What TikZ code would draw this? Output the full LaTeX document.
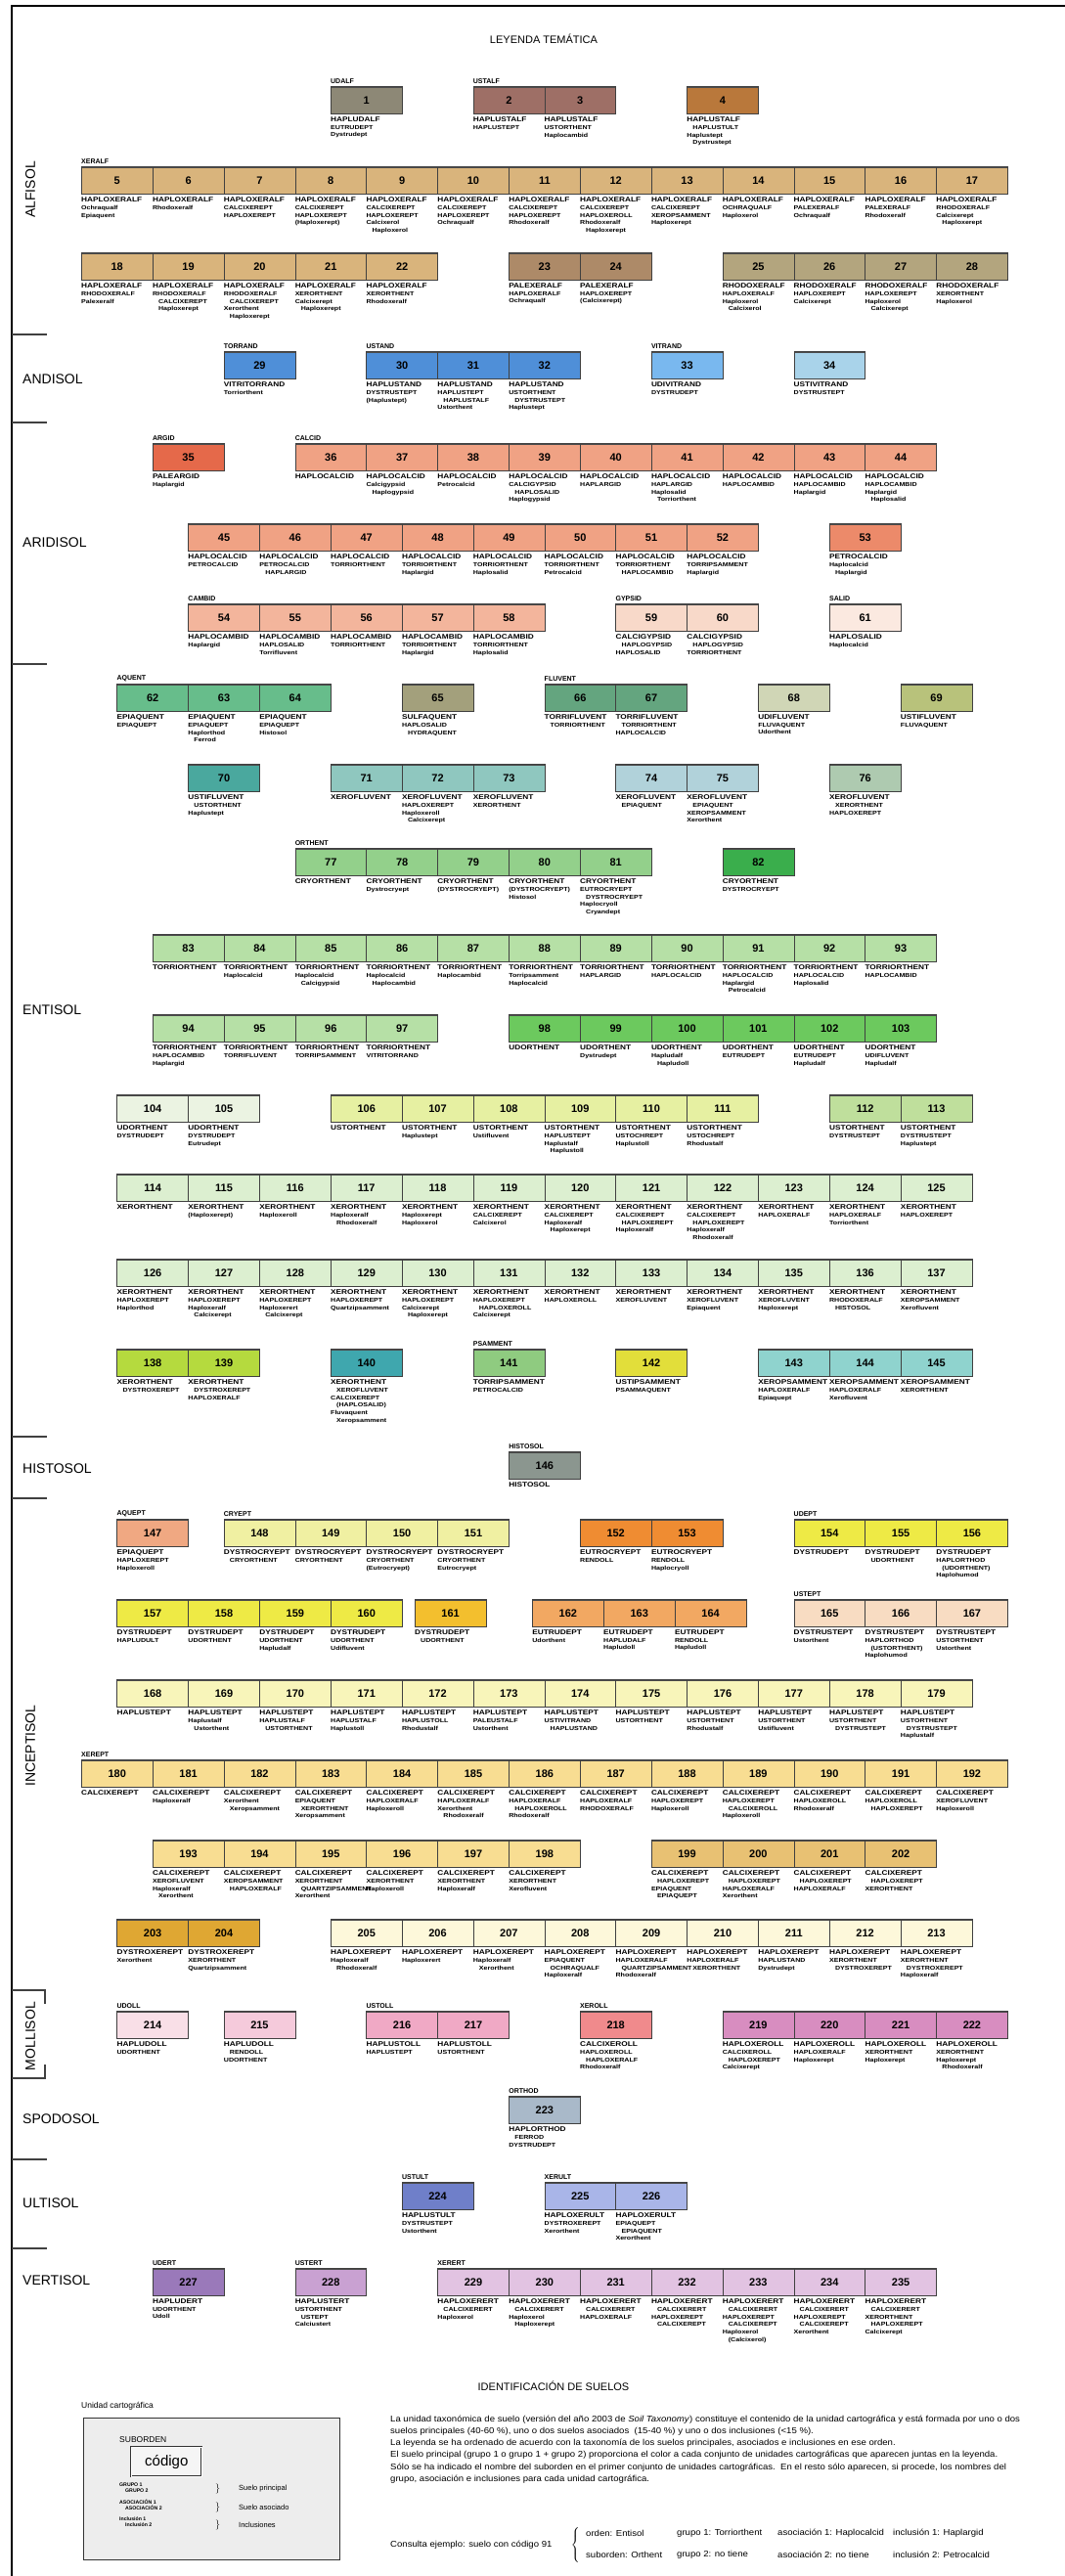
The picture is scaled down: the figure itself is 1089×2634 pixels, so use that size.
\documentclass[tikz,border=0pt]{standalone}
\usepackage{fontspec}
\setmainfont{Liberation Sans}
\newfontfamily\anchafont[FakeStretch=1.2]{Liberation Sans}
\newfontfamily\notafont[FakeStretch=1.1]{Liberation Sans}
\usetikzlibrary{positioning}

% colores de los suelos
\definecolor{cA}{HTML}{8D8876}
\definecolor{cB}{HTML}{9E6F66}
\definecolor{cC}{HTML}{B9783B}
\definecolor{cD}{HTML}{D9B47C}
\definecolor{cE}{HTML}{AD8A68}
\definecolor{cF}{HTML}{B3A57E}
\definecolor{cG}{HTML}{4F8FD8}
\definecolor{cH}{HTML}{79B8EF}
\definecolor{cI}{HTML}{A9D3EA}
\definecolor{cJ}{HTML}{E5694A}
\definecolor{cK}{HTML}{F0A284}
\definecolor{cL}{HTML}{EC8A6A}
\definecolor{cM}{HTML}{F3B59C}
\definecolor{cN}{HTML}{F8D9C9}
\definecolor{cO}{HTML}{FBE9E0}
\definecolor{cP}{HTML}{67BD8B}
\definecolor{cQ}{HTML}{A3A07C}
\definecolor{cR}{HTML}{64A57F}
\definecolor{cS}{HTML}{D0D6B6}
\definecolor{cT}{HTML}{B8C27B}
\definecolor{cU}{HTML}{4AA89E}
\definecolor{cV}{HTML}{8FC7BF}
\definecolor{cW}{HTML}{B1D2DA}
\definecolor{cX}{HTML}{AECAB0}
\definecolor{cY}{HTML}{93D08B}
\definecolor{cZ}{HTML}{3AAE4C}
\definecolor{eA}{HTML}{B6E0A6}
\definecolor{eB}{HTML}{6CC95E}
\definecolor{eC}{HTML}{EBF3E2}
\definecolor{eD}{HTML}{E6F0A2}
\definecolor{eE}{HTML}{BFDF9C}
\definecolor{eF}{HTML}{DCEFD0}
\definecolor{eG}{HTML}{B5DA3E}
\definecolor{eH}{HTML}{3FA7AE}
\definecolor{eI}{HTML}{8FCB80}
\definecolor{eJ}{HTML}{E2DE3A}
\definecolor{eK}{HTML}{8FD3CE}
\definecolor{hA}{HTML}{8B968F}
\definecolor{iA}{HTML}{F0A882}
\definecolor{iB}{HTML}{F0F0A2}
\definecolor{iC}{HTML}{EF8C32}
\definecolor{iD}{HTML}{EEEA45}
\definecolor{iE}{HTML}{F3BF2E}
\definecolor{iF}{HTML}{F2A862}
\definecolor{iG}{HTML}{F8DCC2}
\definecolor{iH}{HTML}{F8F5BA}
\definecolor{iI}{HTML}{F8DD92}
\definecolor{iJ}{HTML}{E8C173}
\definecolor{iK}{HTML}{DFA733}
\definecolor{iL}{HTML}{FDF8DA}
\definecolor{mA}{HTML}{F9DFE7}
\definecolor{mB}{HTML}{F5CADB}
\definecolor{mC}{HTML}{F0A9C5}
\definecolor{mD}{HTML}{F08A8C}
\definecolor{mE}{HTML}{D88DC0}
\definecolor{sA}{HTML}{A9B9C9}
\definecolor{uA}{HTML}{6F7FC9}
\definecolor{uB}{HTML}{A9B5E8}
\definecolor{vA}{HTML}{9A79BA}
\definecolor{vB}{HTML}{C9A1D2}
\definecolor{vC}{HTML}{E2C3E2}

\newcommand{\indt}{\hspace*{6pt}}
% unidad: numero, columna, y, color, grupo 1, resto
\newcommand{\uc}[6]{%
  \node[caja, fill=#4] (u#1) at ({83+72.85*(#2)}, #3) {#1};
  \node[texto] (t#1) at ([yshift=-3pt]u#1.south west) {{\fontsize{6.9}{7.7}\selectfont #5}#6};}

\begin{document}
\begin{tikzpicture}[x=1pt, y=-1pt,
    caja/.style = {draw=black!75, line width=0.6pt, anchor=north west,
      minimum width=72.85pt, minimum height=28pt, inner sep=0pt,
      font=\bfseries\fontsize{11}{11}\selectfont,
      path picture={\draw[black!70, line width=2.6pt]
        (path picture bounding box.north west) -- (path picture bounding box.north east);}},
    texto/.style = {anchor=north west, inner sep=0pt, align=left,
      font=\anchafont\bfseries\fontsize{5.9}{7.7}\selectfont},
    subord/.style = {anchor=south west, inner sep=0pt, font=\bfseries\fontsize{7}{7}\selectfont},
    orden/.style = {anchor=west, inner sep=0pt, font=\fontsize{14}{14}\selectfont},
    nota/.style = {anchor=west, inner sep=0pt, font=\notafont\fontsize{8.7}{9}\selectfont},
    divisor/.style = {line width=1.2pt, black!75}]
\useasboundingbox (0,0) rectangle (1089,2634);
\fill[white] (0,0) rectangle (1089,2634);

% marco
\draw[line width=1.2pt] (12,2634) -- (12,6) -- (1089,6);

\node[font=\fontsize{11}{11}\selectfont] (titulo) at (556,40) {LEYENDA TEMÁTICA};

% ordenes
\node[orden, rotate=90, anchor=center] (oALF) at (31,194) {ALFISOL};
\node[orden] (oAND) at (23,388) {ANDISOL};
\node[orden] (oARI) at (23,555) {ARIDISOL};
\node[orden] (oENT) at (23,1033) {ENTISOL};
\node[orden] (oHIS) at (23,1502) {HISTOSOL};
\node[orden, rotate=90, anchor=center] (oINC) at (31,1785) {INCEPTISOL};
\node[orden, rotate=90, anchor=center] (oMOL) at (31,2082) {MOLLISOL};
\node[orden] (oSPO) at (23,2167) {SPODOSOL};
\node[orden] (oULT) at (23,2253) {ULTISOL};
\node[orden] (oVER) at (23,2332) {VERTISOL};

\foreach \y in {342,432,679,1469,1532,2208,2299}
  \draw[divisor] (12,\y) -- (48,\y);
\draw[divisor] (46,2049) -- (46,2035) -- (12,2035);
\draw[divisor] (46,2111) -- (46,2125) -- (12,2125);

% ALFISOL
\uc{1}{3.5}{88}{cA}{HAPLUDALF}{\\EUTRUDEPT\\Dystrudept}
\uc{2}{5.5}{88}{cB}{HAPLUSTALF}{\\HAPLUSTEPT}
\uc{3}{6.5}{88}{cB}{HAPLUSTALF}{\\USTORTHENT\\Haplocambid}
\uc{4}{8.5}{88}{cC}{HAPLUSTALF}{\\\indt HAPLUSTULT\\Haplustept\\\indt Dystrustept}
\uc{5}{0}{170}{cD}{HAPLOXERALF}{\\Ochraqualf\\Epiaquent}
\uc{6}{1}{170}{cD}{HAPLOXERALF}{\\Rhodoxeralf}
\uc{7}{2}{170}{cD}{HAPLOXERALF}{\\CALCIXEREPT\\HAPLOXEREPT}
\uc{8}{3}{170}{cD}{HAPLOXERALF}{\\CALCIXEREPT\\HAPLOXEREPT\\(Haploxerept)}
\uc{9}{4}{170}{cD}{HAPLOXERALF}{\\CALCIXEREPT\\HAPLOXEREPT\\Calcixerol\\\indt Haploxerol}
\uc{10}{5}{170}{cD}{HAPLOXERALF}{\\CALCIXEREPT\\HAPLOXEREPT\\Ochraqualf}
\uc{11}{6}{170}{cD}{HAPLOXERALF}{\\CALCIXEREPT\\HAPLOXEREPT\\Rhodoxeralf}
\uc{12}{7}{170}{cD}{HAPLOXERALF}{\\CALCIXEREPT\\HAPLOXEROLL\\Rhodoxeralf\\\indt Haploxerept}
\uc{13}{8}{170}{cD}{HAPLOXERALF}{\\CALCIXEREPT\\XEROPSAMMENT\\Haploxerept}
\uc{14}{9}{170}{cD}{HAPLOXERALF}{\\OCHRAQUALF\\Haploxerol}
\uc{15}{10}{170}{cD}{HAPLOXERALF}{\\PALEXERALF\\Ochraqualf}
\uc{16}{11}{170}{cD}{HAPLOXERALF}{\\PALEXERALF\\Rhodoxeralf}
\uc{17}{12}{170}{cD}{HAPLOXERALF}{\\RHODOXERALF\\Calcixerept\\\indt Haploxerept}
\uc{18}{0}{258}{cD}{HAPLOXERALF}{\\RHODOXERALF\\Palexeralf}
\uc{19}{1}{258}{cD}{HAPLOXERALF}{\\RHODOXERALF\\\indt CALCIXEREPT\\\indt Haploxerept}
\uc{20}{2}{258}{cD}{HAPLOXERALF}{\\RHODOXERALF\\\indt CALCIXEREPT\\Xerorthent\\\indt Haploxerept}
\uc{21}{3}{258}{cD}{HAPLOXERALF}{\\XERORTHENT\\Calcixerept\\\indt Haploxerept}
\uc{22}{4}{258}{cD}{HAPLOXERALF}{\\XERORTHENT\\Rhodoxeralf}
\uc{23}{6}{258}{cE}{PALEXERALF}{\\HAPLOXERALF\\Ochraqualf}
\uc{24}{7}{258}{cE}{PALEXERALF}{\\HAPLOXEREPT\\(Calcixerept)}
\uc{25}{9}{258}{cF}{RHODOXERALF}{\\HAPLOXERALF\\Haploxerol\\\indt Calcixerol}
\uc{26}{10}{258}{cF}{RHODOXERALF}{\\HAPLOXEREPT\\Calcixerept}
\uc{27}{11}{258}{cF}{RHODOXERALF}{\\HAPLOXEREPT\\Haploxerol\\\indt Calcixerept}
\uc{28}{12}{258}{cF}{RHODOXERALF}{\\XERORTHENT\\Haploxerol}
\node[subord] (sUDALF) at ([yshift=2pt]u1.north west) {UDALF};
\node[subord] (sUSTALF) at ([yshift=2pt]u2.north west) {USTALF};
\node[subord] (sXERALF) at ([yshift=2pt]u5.north west) {XERALF};

% ANDISOL
\uc{29}{2}{359}{cG}{VITRITORRAND}{\\Torriorthent}
\uc{30}{4}{359}{cG}{HAPLUSTAND}{\\DYSTRUSTEPT\\(Haplustept)}
\uc{31}{5}{359}{cG}{HAPLUSTAND}{\\HAPLUSTEPT\\\indt HAPLUSTALF\\Ustorthent}
\uc{32}{6}{359}{cG}{HAPLUSTAND}{\\USTORTHENT\\\indt DYSTRUSTEPT\\Haplustept}
\uc{33}{8}{359}{cH}{UDIVITRAND}{\\DYSTRUDEPT}
\uc{34}{10}{359}{cI}{USTIVITRAND}{\\DYSTRUSTEPT}
\node[subord] (sTORRAND) at ([yshift=2pt]u29.north west) {TORRAND};
\node[subord] (sUSTAND) at ([yshift=2pt]u30.north west) {USTAND};
\node[subord] (sVITRAND) at ([yshift=2pt]u33.north west) {VITRAND};

% ARIDISOL
\uc{35}{1}{453}{cJ}{PALEARGID}{\\Haplargid}
\uc{36}{3}{453}{cK}{HAPLOCALCID}{}
\uc{37}{4}{453}{cK}{HAPLOCALCID}{\\Calcigypsid\\\indt Haplogypsid}
\uc{38}{5}{453}{cK}{HAPLOCALCID}{\\Petrocalcid}
\uc{39}{6}{453}{cK}{HAPLOCALCID}{\\CALCIGYPSID\\\indt HAPLOSALID\\Haplogypsid}
\uc{40}{7}{453}{cK}{HAPLOCALCID}{\\HAPLARGID}
\uc{41}{8}{453}{cK}{HAPLOCALCID}{\\HAPLARGID\\Haplosalid\\\indt Torriorthent}
\uc{42}{9}{453}{cK}{HAPLOCALCID}{\\HAPLOCAMBID}
\uc{43}{10}{453}{cK}{HAPLOCALCID}{\\HAPLOCAMBID\\Haplargid}
\uc{44}{11}{453}{cK}{HAPLOCALCID}{\\HAPLOCAMBID\\Haplargid\\\indt Haplosalid}
\uc{45}{1.5}{535}{cK}{HAPLOCALCID}{\\PETROCALCID}
\uc{46}{2.5}{535}{cK}{HAPLOCALCID}{\\PETROCALCID\\\indt HAPLARGID}
\uc{47}{3.5}{535}{cK}{HAPLOCALCID}{\\TORRIORTHENT}
\uc{48}{4.5}{535}{cK}{HAPLOCALCID}{\\TORRIORTHENT\\Haplargid}
\uc{49}{5.5}{535}{cK}{HAPLOCALCID}{\\TORRIORTHENT\\Haplosalid}
\uc{50}{6.5}{535}{cK}{HAPLOCALCID}{\\TORRIORTHENT\\Petrocalcid}
\uc{51}{7.5}{535}{cK}{HAPLOCALCID}{\\TORRIORTHENT\\\indt HAPLOCAMBID}
\uc{52}{8.5}{535}{cK}{HAPLOCALCID}{\\TORRIPSAMMENT\\Haplargid}
\uc{53}{10.5}{535}{cL}{PETROCALCID}{\\Haplocalcid\\\indt Haplargid}
\uc{54}{1.5}{617}{cM}{HAPLOCAMBID}{\\Haplargid}
\uc{55}{2.5}{617}{cM}{HAPLOCAMBID}{\\HAPLOSALID\\Torrifluvent}
\uc{56}{3.5}{617}{cM}{HAPLOCAMBID}{\\TORRIORTHENT}
\uc{57}{4.5}{617}{cM}{HAPLOCAMBID}{\\TORRIORTHENT\\Haplargid}
\uc{58}{5.5}{617}{cM}{HAPLOCAMBID}{\\TORRIORTHENT\\Haplosalid}
\uc{59}{7.5}{617}{cN}{CALCIGYPSID}{\\\indt HAPLOGYPSID\\HAPLOSALID}
\uc{60}{8.5}{617}{cN}{CALCIGYPSID}{\\\indt HAPLOGYPSID\\TORRIORTHENT}
\uc{61}{10.5}{617}{cO}{HAPLOSALID}{\\Haplocalcid}
\node[subord] (sARGID) at ([yshift=2pt]u35.north west) {ARGID};
\node[subord] (sCALCID) at ([yshift=2pt]u36.north west) {CALCID};
\node[subord] (sCAMBID) at ([yshift=2pt]u54.north west) {CAMBID};
\node[subord] (sGYPSID) at ([yshift=2pt]u59.north west) {GYPSID};
\node[subord] (sSALID) at ([yshift=2pt]u61.north west) {SALID};

% ENTISOL
\uc{62}{0.5}{699}{cP}{EPIAQUENT}{\\EPIAQUEPT}
\uc{63}{1.5}{699}{cP}{EPIAQUENT}{\\EPIAQUEPT\\Haplorthod\\\indt Ferrod}
\uc{64}{2.5}{699}{cP}{EPIAQUENT}{\\EPIAQUEPT\\Histosol}
\uc{65}{4.5}{699}{cQ}{SULFAQUENT}{\\HAPLOSALID\\\indt HYDRAQUENT}
\uc{66}{6.5}{699}{cR}{TORRIFLUVENT}{\\\indt TORRIORTHENT}
\uc{67}{7.5}{699}{cR}{TORRIFLUVENT}{\\\indt TORRIORTHENT\\HAPLOCALCID}
\uc{68}{9.5}{699}{cS}{UDIFLUVENT}{\\FLUVAQUENT\\Udorthent}
\uc{69}{11.5}{699}{cT}{USTIFLUVENT}{\\FLUVAQUENT}
\uc{70}{1.5}{781}{cU}{USTIFLUVENT}{\\\indt USTORTHENT\\Haplustept}
\uc{71}{3.5}{781}{cV}{XEROFLUVENT}{}
\uc{72}{4.5}{781}{cV}{XEROFLUVENT}{\\HAPLOXEREPT\\Haploxeroll\\\indt Calcixerept}
\uc{73}{5.5}{781}{cV}{XEROFLUVENT}{\\XERORTHENT}
\uc{74}{7.5}{781}{cW}{XEROFLUVENT}{\\\indt EPIAQUENT}
\uc{75}{8.5}{781}{cW}{XEROFLUVENT}{\\\indt EPIAQUENT\\XEROPSAMMENT\\Xerorthent}
\uc{76}{10.5}{781}{cX}{XEROFLUVENT}{\\\indt XERORTHENT\\HAPLOXEREPT}
\uc{77}{3}{867}{cY}{CRYORTHENT}{}
\uc{78}{4}{867}{cY}{CRYORTHENT}{\\Dystrocryept}
\uc{79}{5}{867}{cY}{CRYORTHENT}{\\(DYSTROCRYEPT)}
\uc{80}{6}{867}{cY}{CRYORTHENT}{\\(DYSTROCRYEPT)\\Histosol}
\uc{81}{7}{867}{cY}{CRYORTHENT}{\\EUTROCRYEPT\\\indt DYSTROCRYEPT\\Haplocryoll\\\indt Cryandept}
\uc{82}{9}{867}{cZ}{CRYORTHENT}{\\DYSTROCRYEPT}
\uc{83}{1}{955}{eA}{TORRIORTHENT}{}
\uc{84}{2}{955}{eA}{TORRIORTHENT}{\\Haplocalcid}
\uc{85}{3}{955}{eA}{TORRIORTHENT}{\\Haplocalcid\\\indt Calcigypsid}
\uc{86}{4}{955}{eA}{TORRIORTHENT}{\\Haplocalcid\\\indt Haplocambid}
\uc{87}{5}{955}{eA}{TORRIORTHENT}{\\Haplocambid}
\uc{88}{6}{955}{eA}{TORRIORTHENT}{\\Torripsamment\\Haplocalcid}
\uc{89}{7}{955}{eA}{TORRIORTHENT}{\\HAPLARGID}
\uc{90}{8}{955}{eA}{TORRIORTHENT}{\\HAPLOCALCID}
\uc{91}{9}{955}{eA}{TORRIORTHENT}{\\HAPLOCALCID\\Haplargid\\\indt Petrocalcid}
\uc{92}{10}{955}{eA}{TORRIORTHENT}{\\HAPLOCALCID\\Haplosalid}
\uc{93}{11}{955}{eA}{TORRIORTHENT}{\\HAPLOCAMBID}
\uc{94}{1}{1037}{eA}{TORRIORTHENT}{\\HAPLOCAMBID\\Haplargid}
\uc{95}{2}{1037}{eA}{TORRIORTHENT}{\\TORRIFLUVENT}
\uc{96}{3}{1037}{eA}{TORRIORTHENT}{\\TORRIPSAMMENT}
\uc{97}{4}{1037}{eA}{TORRIORTHENT}{\\VITRITORRAND}
\uc{98}{6}{1037}{eB}{UDORTHENT}{}
\uc{99}{7}{1037}{eB}{UDORTHENT}{\\Dystrudept}
\uc{100}{8}{1037}{eB}{UDORTHENT}{\\Hapludalf\\\indt Hapludoll}
\uc{101}{9}{1037}{eB}{UDORTHENT}{\\EUTRUDEPT}
\uc{102}{10}{1037}{eB}{UDORTHENT}{\\EUTRUDEPT\\Hapludalf}
\uc{103}{11}{1037}{eB}{UDORTHENT}{\\UDIFLUVENT\\Hapludalf}
\uc{104}{0.5}{1119}{eC}{UDORTHENT}{\\DYSTRUDEPT}
\uc{105}{1.5}{1119}{eC}{UDORTHENT}{\\DYSTRUDEPT\\Eutrudept}
\uc{106}{3.5}{1119}{eD}{USTORTHENT}{}
\uc{107}{4.5}{1119}{eD}{USTORTHENT}{\\Haplustept}
\uc{108}{5.5}{1119}{eD}{USTORTHENT}{\\Ustifluvent}
\uc{109}{6.5}{1119}{eD}{USTORTHENT}{\\HAPLUSTEPT\\Haplustalf\\\indt Haplustoll}
\uc{110}{7.5}{1119}{eD}{USTORTHENT}{\\USTOCHREPT\\Haplustoll}
\uc{111}{8.5}{1119}{eD}{USTORTHENT}{\\USTOCHREPT\\Rhodustalf}
\uc{112}{10.5}{1119}{eE}{USTORTHENT}{\\DYSTRUSTEPT}
\uc{113}{11.5}{1119}{eE}{USTORTHENT}{\\DYSTRUSTEPT\\Haplustept}
\uc{114}{0.5}{1200}{eF}{XERORTHENT}{}
\uc{115}{1.5}{1200}{eF}{XERORTHENT}{\\(Haploxerept)}
\uc{116}{2.5}{1200}{eF}{XERORTHENT}{\\Haploxeroll}
\uc{117}{3.5}{1200}{eF}{XERORTHENT}{\\Haploxeralf\\\indt Rhodoxeralf}
\uc{118}{4.5}{1200}{eF}{XERORTHENT}{\\Haploxerept\\Haploxerol}
\uc{119}{5.5}{1200}{eF}{XERORTHENT}{\\CALCIXEREPT\\Calcixerol}
\uc{120}{6.5}{1200}{eF}{XERORTHENT}{\\CALCIXEREPT\\Haploxeralf\\\indt Haploxerept}
\uc{121}{7.5}{1200}{eF}{XERORTHENT}{\\CALCIXEREPT\\\indt HAPLOXEREPT\\Haploxeralf}
\uc{122}{8.5}{1200}{eF}{XERORTHENT}{\\CALCIXEREPT\\\indt HAPLOXEREPT\\Haploxeralf\\\indt Rhodoxeralf}
\uc{123}{9.5}{1200}{eF}{XERORTHENT}{\\HAPLOXERALF}
\uc{124}{10.5}{1200}{eF}{XERORTHENT}{\\HAPLOXERALF\\Torriorthent}
\uc{125}{11.5}{1200}{eF}{XERORTHENT}{\\HAPLOXEREPT}
\uc{126}{0.5}{1287}{eF}{XERORTHENT}{\\HAPLOXEREPT\\Haplorthod}
\uc{127}{1.5}{1287}{eF}{XERORTHENT}{\\HAPLOXEREPT\\Haploxeralf\\\indt Calcixerept}
\uc{128}{2.5}{1287}{eF}{XERORTHENT}{\\HAPLOXEREPT\\Haploxerert\\\indt Calcixerept}
\uc{129}{3.5}{1287}{eF}{XERORTHENT}{\\HAPLOXEREPT\\Quartzipsamment}
\uc{130}{4.5}{1287}{eF}{XERORTHENT}{\\HAPLOXEREPT\\Calcixerept\\\indt Haploxerept}
\uc{131}{5.5}{1287}{eF}{XERORTHENT}{\\HAPLOXEREPT\\\indt HAPLOXEROLL\\Calcixerept}
\uc{132}{6.5}{1287}{eF}{XERORTHENT}{\\HAPLOXEROLL}
\uc{133}{7.5}{1287}{eF}{XERORTHENT}{\\XEROFLUVENT}
\uc{134}{8.5}{1287}{eF}{XERORTHENT}{\\XEROFLUVENT\\Epiaquent}
\uc{135}{9.5}{1287}{eF}{XERORTHENT}{\\XEROFLUVENT\\Haploxerept}
\uc{136}{10.5}{1287}{eF}{XERORTHENT}{\\RHODOXERALF\\\indt HISTOSOL}
\uc{137}{11.5}{1287}{eF}{XERORTHENT}{\\XEROPSAMMENT\\Xerofluvent}
\uc{138}{0.5}{1379}{eG}{XERORTHENT}{\\\indt DYSTROXEREPT}
\uc{139}{1.5}{1379}{eG}{XERORTHENT}{\\\indt DYSTROXEREPT\\HAPLOXERALF}
\uc{140}{3.5}{1379}{eH}{XERORTHENT}{\\\indt XEROFLUVENT\\CALCIXEREPT\\\indt (HAPLOSALID)\\Fluvaquent\\\indt Xeropsamment}
\uc{141}{5.5}{1379}{eI}{TORRIPSAMMENT}{\\PETROCALCID}
\uc{142}{7.5}{1379}{eJ}{USTIPSAMMENT}{\\PSAMMAQUENT}
\uc{143}{9.5}{1379}{eK}{XEROPSAMMENT}{\\HAPLOXERALF\\Epiaquept}
\uc{144}{10.5}{1379}{eK}{XEROPSAMMENT}{\\HAPLOXERALF\\Xerofluvent}
\uc{145}{11.5}{1379}{eK}{XEROPSAMMENT}{\\XERORTHENT}
\node[subord] (sAQUENT) at ([yshift=2pt]u62.north west) {AQUENT};
\node[subord] (sFLUVENT) at ([yshift=2pt]u66.north west) {FLUVENT};
\node[subord] (sORTHENT) at ([yshift=2pt]u77.north west) {ORTHENT};
\node[subord] (sPSAMMENT) at ([yshift=2pt]u141.north west) {PSAMMENT};

% HISTOSOL
\uc{146}{6}{1484}{hA}{HISTOSOL}{}
\node[subord] (sHISTOSOL) at ([yshift=2pt]u146.north west) {HISTOSOL};

% INCEPTISOL
\uc{147}{0.5}{1553}{iA}{EPIAQUEPT}{\\HAPLOXEREPT\\Haploxeroll}
\uc{148}{2}{1553}{iB}{DYSTROCRYEPT}{\\\indt CRYORTHENT}
\uc{149}{3}{1553}{iB}{DYSTROCRYEPT}{\\CRYORTHENT}
\uc{150}{4}{1553}{iB}{DYSTROCRYEPT}{\\CRYORTHENT\\(Eutrocryept)}
\uc{151}{5}{1553}{iB}{DYSTROCRYEPT}{\\CRYORTHENT\\Eutrocryept}
\uc{152}{7}{1553}{iC}{EUTROCRYEPT}{\\RENDOLL}
\uc{153}{8}{1553}{iC}{EUTROCRYEPT}{\\RENDOLL\\Haplocryoll}
\uc{154}{10}{1553}{iD}{DYSTRUDEPT}{}
\uc{155}{11}{1553}{iD}{DYSTRUDEPT}{\\\indt UDORTHENT}
\uc{156}{12}{1553}{iD}{DYSTRUDEPT}{\\HAPLORTHOD\\\indt (UDORTHENT)\\Haplohumod}
\uc{157}{0.5}{1635}{iD}{DYSTRUDEPT}{\\HAPLUDULT}
\uc{158}{1.5}{1635}{iD}{DYSTRUDEPT}{\\UDORTHENT}
\uc{159}{2.5}{1635}{iD}{DYSTRUDEPT}{\\UDORTHENT\\Hapludalf}
\uc{160}{3.5}{1635}{iD}{DYSTRUDEPT}{\\UDORTHENT\\Udifluvent}
\uc{161}{4.68}{1635}{iE}{DYSTRUDEPT}{\\\indt UDORTHENT}
\uc{162}{6.33}{1635}{iF}{EUTRUDEPT}{\\Udorthent}
\uc{163}{7.33}{1635}{iF}{EUTRUDEPT}{\\HAPLUDALF\\Hapludoll}
\uc{164}{8.33}{1635}{iF}{EUTRUDEPT}{\\RENDOLL\\Hapludoll}
\uc{165}{10}{1635}{iG}{DYSTRUSTEPT}{\\Ustorthent}
\uc{166}{11}{1635}{iG}{DYSTRUSTEPT}{\\HAPLORTHOD\\\indt (USTORTHENT)\\Haplohumod}
\uc{167}{12}{1635}{iG}{DYSTRUSTEPT}{\\USTORTHENT\\Ustorthent}
\uc{168}{0.5}{1717}{iH}{HAPLUSTEPT}{}
\uc{169}{1.5}{1717}{iH}{HAPLUSTEPT}{\\Haplustalf\\\indt Ustorthent}
\uc{170}{2.5}{1717}{iH}{HAPLUSTEPT}{\\HAPLUSTALF\\\indt USTORTHENT}
\uc{171}{3.5}{1717}{iH}{HAPLUSTEPT}{\\HAPLUSTALF\\Haplustoll}
\uc{172}{4.5}{1717}{iH}{HAPLUSTEPT}{\\HAPLUSTOLL\\Rhodustalf}
\uc{173}{5.5}{1717}{iH}{HAPLUSTEPT}{\\PALEUSTALF\\Ustorthent}
\uc{174}{6.5}{1717}{iH}{HAPLUSTEPT}{\\USTIVITRAND\\\indt HAPLUSTAND}
\uc{175}{7.5}{1717}{iH}{HAPLUSTEPT}{\\USTORTHENT}
\uc{176}{8.5}{1717}{iH}{HAPLUSTEPT}{\\USTORTHENT\\Rhodustalf}
\uc{177}{9.5}{1717}{iH}{HAPLUSTEPT}{\\USTORTHENT\\Ustifluvent}
\uc{178}{10.5}{1717}{iH}{HAPLUSTEPT}{\\USTORTHENT\\\indt DYSTRUSTEPT}
\uc{179}{11.5}{1717}{iH}{HAPLUSTEPT}{\\USTORTHENT\\\indt DYSTRUSTEPT\\Haplustalf}
\uc{180}{0}{1799}{iI}{CALCIXEREPT}{}
\uc{181}{1}{1799}{iI}{CALCIXEREPT}{\\Haploxeralf}
\uc{182}{2}{1799}{iI}{CALCIXEREPT}{\\Xerorthent\\\indt Xeropsamment}
\uc{183}{3}{1799}{iI}{CALCIXEREPT}{\\EPIAQUENT\\\indt XERORTHENT\\Xeropsamment}
\uc{184}{4}{1799}{iI}{CALCIXEREPT}{\\HAPLOXERALF\\Haploxeroll}
\uc{185}{5}{1799}{iI}{CALCIXEREPT}{\\HAPLOXERALF\\Xerorthent\\\indt Rhodoxeralf}
\uc{186}{6}{1799}{iI}{CALCIXEREPT}{\\HAPLOXERALF\\\indt HAPLOXEROLL\\Rhodoxeralf}
\uc{187}{7}{1799}{iI}{CALCIXEREPT}{\\HAPLOXERALF\\RHODOXERALF}
\uc{188}{8}{1799}{iI}{CALCIXEREPT}{\\HAPLOXEREPT\\Haploxeroll}
\uc{189}{9}{1799}{iI}{CALCIXEREPT}{\\HAPLOXEREPT\\\indt CALCIXEROLL\\Haploxeroll}
\uc{190}{10}{1799}{iI}{CALCIXEREPT}{\\HAPLOXEROLL\\Rhodoxeralf}
\uc{191}{11}{1799}{iI}{CALCIXEREPT}{\\HAPLOXEROLL\\\indt HAPLOXEREPT}
\uc{192}{12}{1799}{iI}{CALCIXEREPT}{\\XEROFLUVENT\\Haploxeroll}
\uc{193}{1}{1881}{iI}{CALCIXEREPT}{\\XEROFLUVENT\\Haploxeralf\\\indt Xerorthent}
\uc{194}{2}{1881}{iI}{CALCIXEREPT}{\\XEROPSAMMENT\\\indt HAPLOXERALF}
\uc{195}{3}{1881}{iI}{CALCIXEREPT}{\\XERORTHENT\\\indt QUARTZIPSAMMENT\\Xerorthent}
\uc{196}{4}{1881}{iI}{CALCIXEREPT}{\\XERORTHENT\\Haploxeroll}
\uc{197}{5}{1881}{iI}{CALCIXEREPT}{\\XERORTHENT\\Haploxeralf}
\uc{198}{6}{1881}{iI}{CALCIXEREPT}{\\XERORTHENT\\Xerofluvent}
\uc{199}{8}{1881}{iJ}{CALCIXEREPT}{\\\indt HAPLOXEREPT\\EPIAQUENT\\\indt EPIAQUEPT}
\uc{200}{9}{1881}{iJ}{CALCIXEREPT}{\\\indt HAPLOXEREPT\\HAPLOXERALF\\Xerorthent}
\uc{201}{10}{1881}{iJ}{CALCIXEREPT}{\\\indt HAPLOXEREPT\\HAPLOXERALF}
\uc{202}{11}{1881}{iJ}{CALCIXEREPT}{\\\indt HAPLOXEREPT\\XERORTHENT}
\uc{203}{0.5}{1962}{iK}{DYSTROXEREPT}{\\Xerorthent}
\uc{204}{1.5}{1962}{iK}{DYSTROXEREPT}{\\XERORTHENT\\Quartzipsamment}
\uc{205}{3.5}{1962}{iL}{HAPLOXEREPT}{\\Haploxeralf\\\indt Rhodoxeralf}
\uc{206}{4.5}{1962}{iL}{HAPLOXEREPT}{\\Haploxerert}
\uc{207}{5.5}{1962}{iL}{HAPLOXEREPT}{\\Haploxeralf\\\indt Xerorthent}
\uc{208}{6.5}{1962}{iL}{HAPLOXEREPT}{\\EPIAQUENT\\\indt OCHRAQUALF\\Haploxeralf}
\uc{209}{7.5}{1962}{iL}{HAPLOXEREPT}{\\HAPLOXERALF\\\indt QUARTZIPSAMMENT\\Rhodoxeralf}
\uc{210}{8.5}{1962}{iL}{HAPLOXEREPT}{\\HAPLOXERALF\\\indt XERORTHENT}
\uc{211}{9.5}{1962}{iL}{HAPLOXEREPT}{\\HAPLUSTAND\\Dystrudept}
\uc{212}{10.5}{1962}{iL}{HAPLOXEREPT}{\\XERORTHENT\\\indt DYSTROXEREPT}
\uc{213}{11.5}{1962}{iL}{HAPLOXEREPT}{\\XERORTHENT\\\indt DYSTROXEREPT\\Haploxeralf}
\node[subord] (sAQUEPT) at ([yshift=2pt]u147.north west) {AQUEPT};
\node[subord] (sCRYEPT) at ([yshift=2pt]u148.north west) {CRYEPT};
\node[subord] (sUDEPT) at ([yshift=2pt]u154.north west) {UDEPT};
\node[subord] (sUSTEPT) at ([yshift=2pt]u165.north west) {USTEPT};
\node[subord] (sXEREPT) at ([yshift=2pt]u180.north west) {XEREPT};

% MOLLISOL
\uc{214}{0.5}{2056}{mA}{HAPLUDOLL}{\\UDORTHENT}
\uc{215}{2}{2056}{mB}{HAPLUDOLL}{\\\indt RENDOLL\\UDORTHENT}
\uc{216}{4}{2056}{mC}{HAPLUSTOLL}{\\HAPLUSTEPT}
\uc{217}{5}{2056}{mC}{HAPLUSTOLL}{\\USTORTHENT}
\uc{218}{7}{2056}{mD}{CALCIXEROLL}{\\HAPLOXEROLL\\\indt HAPLOXERALF\\Rhodoxeralf}
\uc{219}{9}{2056}{mE}{HAPLOXEROLL}{\\CALCIXEROLL\\\indt HAPLOXEREPT\\Calcixerept}
\uc{220}{10}{2056}{mE}{HAPLOXEROLL}{\\HAPLOXERALF\\Haploxerept}
\uc{221}{11}{2056}{mE}{HAPLOXEROLL}{\\XERORTHENT\\Haploxerept}
\uc{222}{12}{2056}{mE}{HAPLOXEROLL}{\\XERORTHENT\\Haploxerept\\\indt Rhodoxeralf}
\node[subord] (sUDOLL) at ([yshift=2pt]u214.north west) {UDOLL};
\node[subord] (sUSTOLL) at ([yshift=2pt]u216.north west) {USTOLL};
\node[subord] (sXEROLL) at ([yshift=2pt]u218.north west) {XEROLL};

% SPODOSOL
\uc{223}{6}{2143}{sA}{HAPLORTHOD}{\\\indt FERROD\\DYSTRUDEPT}
\node[subord] (sORTHOD) at ([yshift=2pt]u223.north west) {ORTHOD};

% ULTISOL
\uc{224}{4.5}{2231}{uA}{HAPLUSTULT}{\\DYSTRUSTEPT\\Ustorthent}
\uc{225}{6.5}{2231}{uB}{HAPLOXERULT}{\\DYSTROXEREPT\\Xerorthent}
\uc{226}{7.5}{2231}{uB}{HAPLOXERULT}{\\EPIAQUEPT\\\indt EPIAQUENT\\Xerorthent}
\node[subord] (sUSTULT) at ([yshift=2pt]u224.north west) {USTULT};
\node[subord] (sXERULT) at ([yshift=2pt]u225.north west) {XERULT};

% VERTISOL
\uc{227}{1}{2319}{vA}{HAPLUDERT}{\\UDORTHENT\\Udoll}
\uc{228}{3}{2319}{vB}{HAPLUSTERT}{\\USTORTHENT\\\indt USTEPT\\Calciustert}
\uc{229}{5}{2319}{vC}{HAPLOXERERT}{\\\indt CALCIXERERT\\Haploxerol}
\uc{230}{6}{2319}{vC}{HAPLOXERERT}{\\\indt CALCIXERERT\\Haploxerol\\\indt Haploxerept}
\uc{231}{7}{2319}{vC}{HAPLOXERERT}{\\\indt CALCIXERERT\\HAPLOXERALF}
\uc{232}{8}{2319}{vC}{HAPLOXERERT}{\\\indt CALCIXERERT\\HAPLOXEREPT\\\indt CALCIXEREPT}
\uc{233}{9}{2319}{vC}{HAPLOXERERT}{\\\indt CALCIXERERT\\HAPLOXEREPT\\\indt CALCIXEREPT\\Haploxerol\\\indt (Calcixerol)}
\uc{234}{10}{2319}{vC}{HAPLOXERERT}{\\\indt CALCIXERERT\\HAPLOXEREPT\\\indt CALCIXEREPT\\Xerorthent}
\uc{235}{11}{2319}{vC}{HAPLOXERERT}{\\\indt CALCIXERERT\\XERORTHENT\\\indt HAPLOXEREPT\\Calcixerept}
\node[subord] (sUDERT) at ([yshift=2pt]u227.north west) {UDERT};
\node[subord] (sUSTERT) at ([yshift=2pt]u228.north west) {USTERT};
\node[subord] (sXERERT) at ([yshift=2pt]u229.north west) {XERERT};

% identificacion de suelos
\node[font=\fontsize{11}{11}\selectfont] (ident) at (566,2440) {IDENTIFICACIÓN DE SUELOS};
\node[anchor=west, inner sep=0pt, font=\fontsize{8.5}{9}\selectfont] (unidad) at (83,2460) {Unidad cartográfica};
\node[draw=black!80, line width=1.2pt, fill=gray!14, anchor=north west, minimum width=262pt,
  minimum height=145pt, inner sep=0pt] (marco) at (85,2472) {};
\node[anchor=west, inner sep=0pt, font=\fontsize{8.5}{9}\selectfont] (subo) at (122,2495) {SUBORDEN};
\node[draw=black!80, double, line width=0.6pt, fill=gray!8, anchor=north west, minimum width=72pt,
  minimum height=30pt, inner sep=0pt, font=\fontsize{15}{15}\selectfont] (codigo) at (134,2502) {código};
\node[anchor=north west, inner sep=0pt, align=left, font=\bfseries\fontsize{5.2}{6}\selectfont] (gr)
  at (122,2539) {GRUPO 1\\\indt GRUPO 2\\[6pt]ASOCIACIÓN 1\\\indt ASOCIACIÓN 2\\[5pt]Inclusión 1\\\indt Inclusión 2};
\node[inner sep=0pt] (ll1) at (222,2545) {$\left.\rule{0pt}{8pt}\right\}$};
\node[inner sep=0pt] (ll2) at (222,2564) {$\left.\rule{0pt}{8pt}\right\}$};
\node[inner sep=0pt] (ll3) at (222,2582) {$\left.\rule{0pt}{8pt}\right\}$};
\node[anchor=west, inner sep=0pt, font=\fontsize{7.5}{8}\selectfont] (sp) at (244,2545) {Suelo principal};
\node[anchor=west, inner sep=0pt, font=\fontsize{7.5}{8}\selectfont] (sa) at (244,2564) {Suelo asociado};
\node[anchor=west, inner sep=0pt, font=\fontsize{7.5}{8}\selectfont] (si) at (244,2582) {Inclusiones};

\node[anchor=north west, inner sep=0pt, align=left, font=\notafont\fontsize{8.7}{12.1}\selectfont] (parrafo) at (399,2470)
  {La unidad taxonómica de suelo (versión del año 2003 de \textit{Soil Taxonomy}) constituye el contenido de la unidad cartográfica y está formada por uno o dos\\
   suelos principales (40-60 \%), uno o dos suelos asociados\ \ (15-40 \%) y uno o dos inclusiones (<15 \%).\\
   La leyenda se ha ordenado de acuerdo con la taxonomía de los suelos principales, asociados e inclusiones en ese orden.\\
   El suelo principal (grupo 1 o grupo 1 + grupo 2) proporciona el color a cada conjunto de unidades cartográficas que aparecen juntas en la leyenda.\\
   Sólo se ha indicado el nombre del suborden en el primer conjunto de unidades cartográficas.\ \ En el resto sólo aparecen, si procede, los nombres del\\
   grupo, asociación e inclusiones para cada unidad cartográfica.};

\node[nota] (consulta) at (399,2602) {Consulta ejemplo: suelo con código 91};
\node[inner sep=0pt] (llC) at (589,2602) {$\left\{\rule{0pt}{22pt}\right.$};
\node[nota] (ej1) at (599,2590) {orden: Entisol};
\node[nota] (ej2) at (599,2612) {suborden: Orthent};
\node[nota] (ej3) at (692,2590) {grupo 1: Torriorthent};
\node[nota] (ej4) at (692,2612) {grupo 2: no tiene};
\node[nota] (ej5) at (795,2590) {asociación 1: Haplocalcid};
\node[nota] (ej6) at (795,2612) {asociación 2: no tiene};
\node[nota] (ej7) at (913,2590) {inclusión 1: Haplargid};
\node[nota] (ej8) at (913,2612) {inclusión 2: Petrocalcid};
\end{tikzpicture}
\end{document}
